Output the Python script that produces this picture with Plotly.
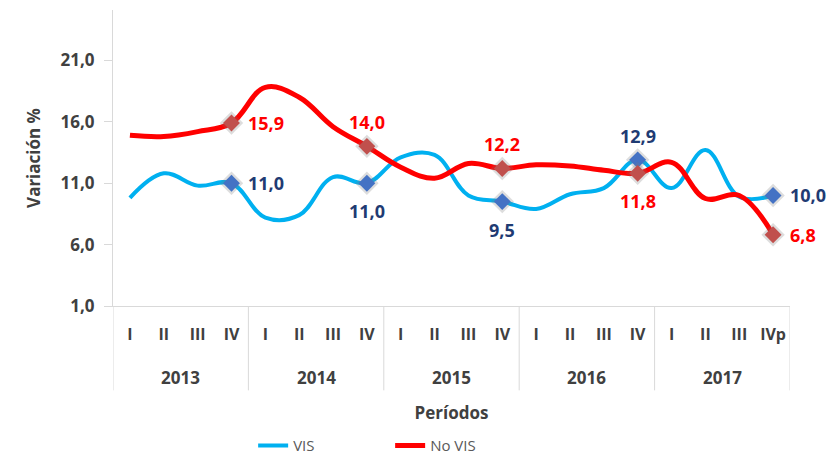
import plotly.graph_objects as go

years = ["2013", "2014", "2015", "2016", "2017"]
quarters = ["I", "II", "III", "IV"] * 4 + ["I", "II", "III", "IVp"]

vis = [9.8, 11.8, 10.8, 11.0, 8.2, 8.4, 11.5, 11.0, 13.1, 13.3, 10.0, 9.5,
       8.9, 10.1, 10.6, 12.9, 10.6, 13.7, 9.9, 10.0]
no_vis = [14.9, 14.8, 15.2, 15.9, 18.8, 18.0, 15.6, 14.0, 12.3, 11.4, 12.6, 12.2,
          12.5, 12.4, 12.05, 11.8, 12.7, 9.75, 10.0, 6.8]

y_ticks = [1, 6, 11, 16, 21]

# labelled points (index in series) and where the label sits
vis_label_idx = [3, 7, 11, 15, 19]
vis_label_pos = ["right", "below", "below", "above", "right"]
novis_label_idx = [3, 7, 11, 15, 19]
novis_label_pos = ["right", "above", "above", "below", "right"]

VIS_LINE = "#00B0F0"
NOVIS_LINE = "#FF0000"
VIS_MARK = "#4472C4"
NOVIS_MARK = "#C0504D"
VIS_TEXT = "#1F3B73"
NOVIS_TEXT = "#FF0000"
AXIS = "#D9D9D9"
TXT = "#404040"
FONT = "Open Sans"

n = len(quarters)
per_year = n // len(years)
xi = list(range(n))

fig = go.Figure()
fig.add_trace(go.Scatter(x=xi, y=vis, mode="lines", name="VIS",
                         line=dict(color=VIS_LINE, width=4, shape="spline", smoothing=1.1)))
fig.add_trace(go.Scatter(x=xi, y=no_vis, mode="lines", name="No VIS",
                         line=dict(color=NOVIS_LINE, width=5, shape="spline", smoothing=1.1)))

def add_markers(idx, vals, color):
    # soft shadow under the diamond, then the diamond itself
    fig.add_trace(go.Scatter(
        x=idx, y=[vals[i] for i in idx], mode="markers", showlegend=False, hoverinfo="skip",
        marker=dict(symbol="diamond", size=18, color="rgba(120,120,120,0.25)", line=dict(width=0))))
    fig.add_trace(go.Scatter(
        x=idx, y=[vals[i] for i in idx], mode="markers", showlegend=False, hoverinfo="skip",
        marker=dict(symbol="diamond", size=13, color=color, line=dict(width=0))))

add_markers(vis_label_idx, vis, VIS_MARK)
add_markers(novis_label_idx, no_vis, NOVIS_MARK)

def add_labels(idx, pos, vals, color):
    for i, p in zip(idx, pos):
        txt = f"{vals[i]:.1f}".replace(".", ",")
        a = dict(x=i, y=vals[i], xref="x", yref="y", text=txt, showarrow=False,
                 font=dict(family=FONT, size=18, color=color, weight="bold"))
        if p == "right":
            a.update(xanchor="left", yanchor="middle", xshift=15)
        elif p == "above":
            a.update(xanchor="center", yanchor="bottom", yshift=10)
        else:
            a.update(xanchor="center", yanchor="top", yshift=-14)
        fig.add_annotation(**a)

add_labels(vis_label_idx, vis_label_pos, vis, VIS_TEXT)
add_labels(novis_label_idx, novis_label_pos, no_vis, NOVIS_TEXT)

# year group labels and the category-table dividers
for k, yr in enumerate(years):
    fig.add_annotation(x=k * per_year + (per_year - 1) / 2, y=-0.243, xref="x", yref="paper",
                       text=yr, showarrow=False, yanchor="middle",
                       font=dict(family=FONT, size=17, color=TXT, weight="bold"))
for k in range(len(years) + 1):
    fig.add_shape(type="line", xref="x", yref="paper",
                  x0=k * per_year - 0.5, x1=k * per_year - 0.5, y0=0, y1=-0.285,
                  line=dict(color=AXIS, width=1))

fig.update_layout(
    width=828, height=452,
    margin=dict(l=105, r=46, t=2, b=154, autoexpand=False),
    paper_bgcolor="white", plot_bgcolor="white",
    separators=",.",
    font=dict(family=FONT, color=TXT),
    showlegend=True,
    legend=dict(orientation="h", x=0.207, xanchor="left", y=-0.472, yanchor="middle",
                entrywidth=92, font=dict(family="Liberation Sans Narrow, Open Sans", size=15, color="#595959"),
                itemwidth=30),
)
fig.update_yaxes(
    range=[1, 25.1], tickvals=y_ticks, tickformat=".1f", automargin=False,
    showgrid=False, zeroline=False,
    showline=True, linecolor=AXIS, linewidth=1,
    ticks="outside", ticklen=8, tickcolor=AXIS,
    tickfont=dict(family=FONT, size=17, color=TXT, weight="bold"),
    ticklabelstandoff=6,
    title=dict(text="Variación %", standoff=15,
               font=dict(family=FONT, size=17, color=TXT, weight="bold")),
)
fig.update_xaxes(
    range=[-0.5, n - 0.5], tickvals=xi, ticktext=quarters, automargin=False,
    showgrid=False, zeroline=False,
    showline=True, linecolor=AXIS, linewidth=1, ticks="",
    ticklabelstandoff=14,
    tickfont=dict(family=FONT, size=16, color=TXT, weight="bold"),
    title=dict(text="Períodos", standoff=62,
               font=dict(family=FONT, size=17, color=TXT, weight="bold")),
)

fig.write_html("out.html")
